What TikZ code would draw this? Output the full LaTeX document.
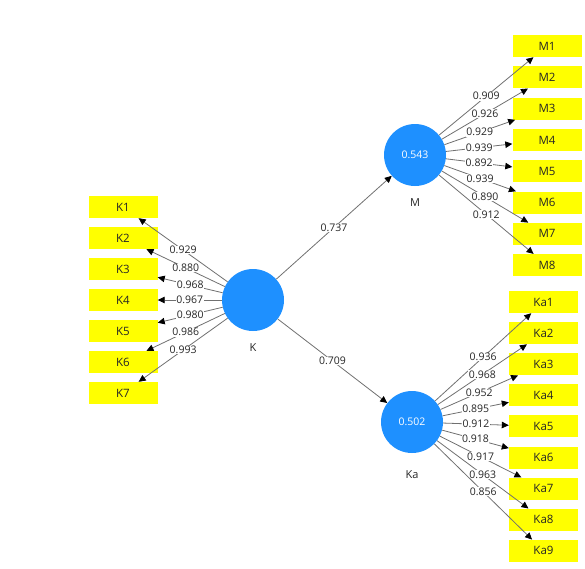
\documentclass[tikz,border=0pt]{standalone}
\usepackage{fontspec}
\setmainfont{Open Sans}
\usetikzlibrary{arrows.meta}
\definecolor{lvblue}{HTML}{1E90FF}
\definecolor{indyellow}{HTML}{FFFF00}
\definecolor{edgegray}{HTML}{707070}
\begin{document}
\begin{tikzpicture}[
  x=1pt, y=-1pt,
  lv/.style={circle, fill=lvblue, minimum size=62pt, inner sep=0pt,
             text=white, font=\fontsize{10.5}{12}\selectfont},
  ind/.style={fill=indyellow, minimum width=69pt, minimum height=22pt,
              inner sep=0pt, text=black!85, font=\fontsize{11.5}{13}\selectfont},
  ar/.style={-{Triangle[length=7pt, width=6.5pt, color=black]}, line width=0.8pt, edgegray},
  lbl/.style={fill=white, inner sep=0.5pt, text=black!85, font=\fontsize{10.5}{12}\selectfont},
  lvname/.style={text=black!85, font=\fontsize{11}{13}\selectfont},
]
  \useasboundingbox (0,0) rectangle (585,568);
  % latent variables
  \node[lv] (K) at (253,300) {};
  \node[lv] (M) at (415,155) {0.543};
  \node[lv] (Ka) at (412,422) {0.502};
  \node[lvname] (Kname) at (253,348) {K};
  \node[lvname] (Mname) at (415,203) {M};
  \node[lvname] (Kaname) at (412,475) {Ka};
  % indicators
  \foreach \i in {1,...,7}
    \node[ind] (K\i) at (123,{207+31*(\i-1)}) {K\i};
  \foreach \i in {1,...,8}
    \node[ind] (M\i) at (547,{46+31.3*(\i-1)}) {M\i};
  \foreach \i in {1,...,9}
    \node[ind] (Ka\i) at (543.5,{302+31.1*(\i-1)}) {Ka\i};
  % paths
  \draw[ar] (K) -- node[lbl] {0.737} (M);
  \draw[ar] (K) -- node[lbl] {0.709} (Ka);
  % loadings
  \foreach \i/\v in {1/0.929, 2/0.880, 3/0.968, 4/0.967, 5/0.980, 6/0.986, 7/0.993}
    \draw[ar] (K) -- node[lbl] {\v} (K\i);
  \foreach \i/\v in {1/0.909, 2/0.926, 3/0.929, 4/0.939, 5/0.892, 6/0.939, 7/0.890, 8/0.912}
    \draw[ar] (M) -- node[lbl] {\v} (M\i);
  \foreach \i/\v in {1/0.936, 2/0.968, 3/0.952, 4/0.895, 5/0.912, 6/0.918, 7/0.917, 8/0.963, 9/0.856}
    \draw[ar] (Ka) -- node[lbl] {\v} (Ka\i);
\end{tikzpicture}
\end{document}
